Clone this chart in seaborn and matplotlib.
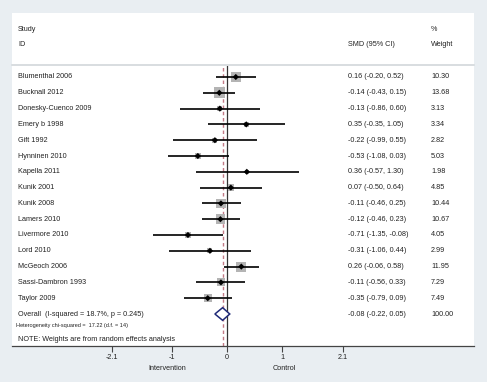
import numpy as np
import pandas as pd
import matplotlib
matplotlib.use("Agg")
import matplotlib.pyplot as plt
from matplotlib.patches import Polygon
import seaborn as sns

# study data
studies = ["Blumenthal 2006", "Bucknall 2012", "Donesky-Cuenco 2009", "Emery b 1998",
           "Gift 1992", "Hynninen 2010", "Kapella 2011", "Kunik 2001", "Kunik 2008",
           "Lamers 2010", "Livermore 2010", "Lord 2010", "McGeoch 2006",
           "Sassi-Dambron 1993", "Taylor 2009"]
smd = [0.16, -0.14, -0.13, 0.35, -0.22, -0.53, 0.36, 0.07, -0.11, -0.12, -0.71, -0.31, 0.26, -0.11, -0.35]
ci_low = [-0.20, -0.43, -0.86, -0.35, -0.99, -1.08, -0.57, -0.50, -0.46, -0.46, -1.35, -1.06, -0.06, -0.56, -0.79]
ci_high = [0.52, 0.15, 0.60, 1.05, 0.55, 0.03, 1.30, 0.64, 0.25, 0.23, -0.08, 0.44, 0.58, 0.33, 0.09]
weights = [10.30, 13.68, 3.13, 3.34, 2.82, 5.03, 1.98, 4.85, 10.44, 10.67, 4.05, 2.99, 11.95, 7.29, 7.49]

overall_smd = -0.08
overall_low = -0.22
overall_high = 0.05
overall_label = "Overall  (I-squared = 18.7%, p = 0.245)"
het_label = "Heterogeneity chi-squared =  17.22 (d.f. = 14)"
note_label = "NOTE: Weights are from random effects analysis"

xticks = [-2.1, -1, 0, 1, 2.1]
xtick_labels = ["-2.1", "-1", "0", "1", "2.1"]

df = pd.DataFrame({"study": studies, "smd": smd, "lo": ci_low, "hi": ci_high, "w": weights})
df["row"] = np.arange(1, len(df) + 1)

W, H = 487, 382
BG = "#e9eef2"
FS = 5.2
TXT = "#222222"

plt.rcParams["font.family"] = ["Liberation Sans", "DejaVu Sans"]
fig = plt.figure(figsize=(W / 100, H / 100), dpi=100, facecolor=BG)

# header panel
hax = fig.add_axes([12 / W, (H - 64) / H, 462 / W, 51 / H])
hax.set_facecolor("white")
hax.set_xlim(0, 1)
hax.set_ylim(0, 1)
hax.set_xticks([])
hax.set_yticks([])
for s in hax.spines.values():
    s.set_visible(False)
hax.text(6 / 462, 0.686, "Study", fontsize=FS, va="center", color=TXT)
hax.text(6 / 462, 0.373, "ID", fontsize=FS, va="center", color=TXT)
hax.text((348 - 12) / 462, 0.373, "SMD (95% CI)", fontsize=FS, va="center", color=TXT)
hax.text((431 - 12) / 462, 0.686, "%", fontsize=FS, va="center", color=TXT)
hax.text((431 - 12) / 462, 0.373, "Weight", fontsize=FS, va="center", color=TXT)

# thin separator line under the header
fig.add_artist(plt.Line2D([12 / W, 474 / W], [(H - 65) / H] * 2, color="#d6dadd", lw=1.2))

# main panel
ax = fig.add_axes([12 / W, (H - 346) / H, 462 / W, 280 / H])
ax.set_facecolor("white")
ax.set_xlim((12 - 227) / 55, (474 - 227) / 55)
ax.set_ylim(1 + (346 - 77) / 15.8, 1 - 11 / 15.8)

ax.axvline(0, color="#333333", lw=0.9, zorder=1)
ax.axvline(overall_smd, color="#c27a86", lw=1.0, ls=(0, (2.5, 2)), zorder=1)

ax.hlines(df["row"], df["lo"], df["hi"], color="black", lw=1.2, zorder=3)
sns.scatterplot(data=df, x="smd", y="row", size="w", sizes=(1.98 * 4.5, 13.68 * 4.5),
                size_norm=(1.98, 13.68), marker="s", color="#b4b4b4", edgecolor="none",
                linewidth=0, legend=False, ax=ax, zorder=2)
sns.scatterplot(data=df, x="smd", y="row", marker="D", s=10, color="black",
                edgecolor="none", linewidth=0, legend=False, ax=ax, zorder=4)

orow = len(df) + 1
diamond = Polygon([[overall_low, orow], [overall_smd, orow - 0.4], [overall_high, orow],
                   [overall_smd, orow + 0.4]], closed=True, facecolor="white",
                  edgecolor="#1f2a78", lw=1.1, zorder=5)
ax.add_patch(diamond)

tr = ax.get_yaxis_transform()
x_id = 6 / 462
x_smd = (348 - 12) / 462
x_w = (431 - 12) / 462
for r, st, m, lo, hi, w in zip(df["row"], studies, smd, ci_low, ci_high, weights):
    ax.text(x_id, r, st, transform=tr, fontsize=FS, va="center", color=TXT)
    ax.text(x_smd, r, f"{m:.2f} ({lo:.2f}, {hi:.2f})", transform=tr, fontsize=FS,
            va="center", color=TXT)
    ax.text(x_w, r, f"{w:.2f}", transform=tr, fontsize=FS, va="center", color=TXT)

ax.text(x_id, orow, overall_label, transform=tr, fontsize=FS, va="center", color=TXT)
ax.text(x_smd, orow, f"{overall_smd:.2f} ({overall_low:.2f}, {overall_high:.2f})",
        transform=tr, fontsize=FS, va="center", color=TXT)
ax.text(x_w, orow, "100.00", transform=tr, fontsize=FS, va="center", color=TXT)
ax.text(4 / 462, orow + 0.7, het_label, transform=tr, fontsize=4.0, va="center", color=TXT)
ax.text(x_id, orow + 1.6, note_label, transform=tr, fontsize=FS, va="center", color=TXT)

ax.set_xticks(xticks)
ax.set_xticklabels(xtick_labels)
ax.set_yticks([])
ax.set_xlabel("")
ax.set_ylabel("")
ax.tick_params(axis="x", direction="out", length=4, width=0.8, color="#444444",
               labelsize=FS, labelcolor=TXT, pad=1.5)
for name, s in ax.spines.items():
    s.set_visible(name == "bottom")
ax.spines["bottom"].set_color("#444444")
ax.spines["bottom"].set_linewidth(0.9)

bt = ax.get_xaxis_transform()
ax.text(-1.08, -0.079, "Intervention", transform=bt, fontsize=FS, ha="center", va="center", color=TXT)
ax.text(1.04, -0.079, "Control", transform=bt, fontsize=FS, ha="center", va="center", color=TXT)

fig.savefig("out.png", dpi=100, facecolor=BG)
